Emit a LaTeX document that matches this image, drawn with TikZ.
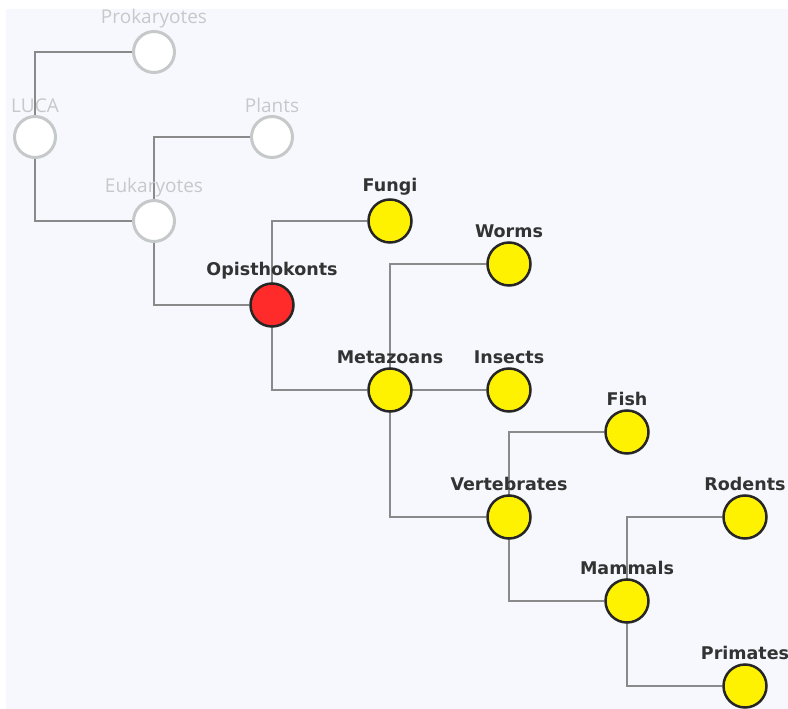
\documentclass[tikz,border=0pt]{standalone}
\usepackage{fontspec}
\setmainfont{DejaVu Sans}
\newfontfamily\fadefont{Open Sans}
\usetikzlibrary{backgrounds}
\definecolor{bgcol}{HTML}{F7F8FD}
\definecolor{edgecol}{HTML}{8A8A8A}
\definecolor{fadecol}{HTML}{C6C9C9}
\definecolor{labcol}{HTML}{333333}
\definecolor{hitcol}{HTML}{FF2B2B}
\begin{document}
\begin{tikzpicture}[x=1pt, y=-1pt,
  taxon/.style={circle, draw=black!85, line width=2.5pt, fill=yellow, minimum size=43pt, inner sep=0pt,
    label={[font=\fontsize{17.5}{20}\selectfont\bfseries, text=labcol, inner sep=1pt, label distance=2pt]above:#1}},
  focus/.style={taxon=#1, fill=hitcol},
  faded/.style={circle, draw=fadecol, line width=3pt, fill=white, minimum size=41pt, inner sep=0pt,
    label={[font=\fadefont\fontsize{19}{21}\selectfont, text=fadecol, inner sep=1pt, label distance=1pt]above:#1}},
  branch/.style={draw=edgecol, line width=1.5pt}]
\useasboundingbox (0,0) rectangle (788,709);
\node[faded=Prokaryotes] (prok) at (154,52){};
\node[faded=LUCA] (luca) at (35,137){};
\node[faded=Plants] (plants) at (272,137){};
\node[faded=Eukaryotes] (euk) at (154,221){};
\node[taxon=Fungi] (fungi) at (390,221){};
\node[focus=Opisthokonts] (opis) at (272,305){};
\node[taxon=Worms] (worms) at (509,264){};
\node[taxon=Metazoans] (meta) at (390,390){};
\node[taxon=Insects] (insects) at (509,390){};
\node[taxon=Fish] (fish) at (627,432){};
\node[taxon=Vertebrates] (vert) at (509,517){};
\node[taxon=Rodents] (rodents) at (745,517){};
\node[taxon=Mammals] (mammals) at (627,601){};
\node[taxon=Primates] (primates) at (745,686){};
\begin{pgfonlayer}{background}
\fill[bgcol] (6,9) rectangle (788,709);
\draw[branch] (luca.center) |- (prok);
\draw[branch] (luca.center) |- (euk);
\draw[branch] (euk.center) |- (plants);
\draw[branch] (euk.center) |- (opis);
\draw[branch] (opis.center) |- (fungi);
\draw[branch] (opis.center) |- (meta);
\draw[branch] (meta.center) |- (worms);
\draw[branch] (meta.center) -- (insects);
\draw[branch] (meta.center) |- (vert);
\draw[branch] (vert.center) |- (fish);
\draw[branch] (vert.center) |- (mammals);
\draw[branch] (mammals.center) |- (rodents);
\draw[branch] (mammals.center) |- (primates);
\end{pgfonlayer}
\end{tikzpicture}
\end{document}
